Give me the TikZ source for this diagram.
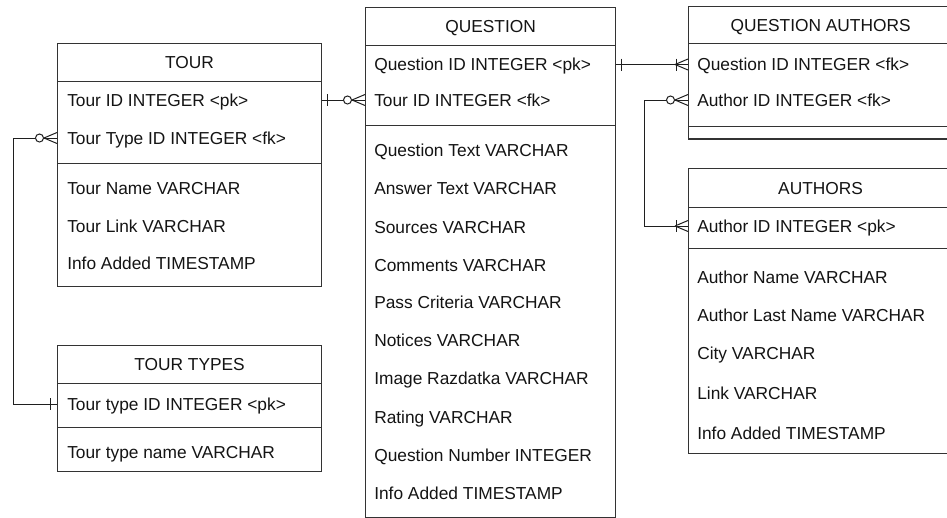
\documentclass[tikz,border=0pt]{standalone}
\usepackage{fontspec}
\setmainfont{Liberation Sans}
\usetikzlibrary{calc}
\newcommand\erCrow[1]{\draw[conn] ($(#1)+(-13,0)$) -- ($(#1)+(0,-5.5)$) ($(#1)+(-13,0)$) -- ($(#1)+(0,5.5)$);}
\newcommand\erCircle[1]{\draw[conn,fill=white] ($(#1)+(-17.5,0)$) circle[radius=3pt];}
\newcommand\erBar[2]{\draw[conn] ($(#1)+(#2,-6)$) -- ($(#1)+(#2,6)$);}
\begin{document}
\begin{tikzpicture}[x=0.75pt,y=-0.75pt,
  sec/.style 2 args={draw=black!80, line width=0.9pt, fill=white, inner sep=0pt,
    anchor=north west, minimum width=#1*0.75pt, minimum height=#2*0.75pt,
    font=\fontsize{13}{15}\selectfont, text=black!92, text height=9.3pt, text depth=0pt},
  row/.style={font=\fontsize{13}{15}\selectfont, text=black!92, inner sep=0pt,
    anchor=west, text height=9.3pt, text depth=0pt},
  conn/.style={draw=black!88, line width=0.75pt},
]
\useasboundingbox (0,0) rectangle (947,518);
\fill[white] (0,0) rectangle (947,518);
\clip (0,0) rectangle (947,518);

% TOUR
\node[sec={264}{38}] (tourH) at (57,43) {TOUR};
\node[sec={264}{82}] (tourK) at (57,81) {};
\node[sec={264}{123}] (tourA) at (57,163) {};
\node[row] (t1) at (67,100) {Tour ID INTEGER <pk>};
\node[row] (t2) at (67,138) {Tour Type ID INTEGER <fk>};
\node[row] (t3) at (67,188) {Tour Name VARCHAR};
\node[row] (t4) at (67,226) {Tour Link VARCHAR};
\node[row] (t5) at (67,263) {Info Added TIMESTAMP};

% TOUR TYPES
\node[sec={264}{38}] (ttH) at (57,345) {TOUR TYPES};
\node[sec={264}{44}] (ttK) at (57,383) {};
\node[sec={264}{44}] (ttA) at (57,427) {};
\node[row] (tt1) at (67,404) {Tour type ID INTEGER <pk>};
\node[row] (tt2) at (67,452) {Tour type name VARCHAR};

% QUESTION
\node[sec={250}{38}] (qH) at (365,7) {QUESTION};
\node[sec={250}{80}] (qK) at (365,45) {};
\node[sec={250}{392}] (qA) at (365,125) {};
\node[row] (q1) at (374,64.5) {Question ID INTEGER <pk>};
\node[row] (q2) at (374,100) {Tour ID INTEGER <fk>};
\node[row] (q3) at (374,150) {Question Text VARCHAR};
\node[row] (q4) at (374,188) {Answer Text VARCHAR};
\node[row] (q5) at (374,227) {Sources VARCHAR};
\node[row] (q6) at (374,265) {Comments VARCHAR};
\node[row] (q7) at (374,302) {Pass Criteria VARCHAR};
\node[row] (q8) at (374,340) {Notices VARCHAR};
\node[row] (q9) at (374,378) {Image Razdatka VARCHAR};
\node[row] (q10) at (374,417) {Rating VARCHAR};
\node[row] (q11) at (374,455) {Question Number INTEGER};
\node[row] (q12) at (374,493) {Info Added TIMESTAMP};

% QUESTION AUTHORS
\node[sec={264}{37}] (qaH) at (688,6) {QUESTION AUTHORS};
\node[sec={264}{83}] (qaK) at (688,43) {};
\node[sec={264}{6}] (qaA) at (688,126) {};
\node[row] (qa1) at (697,64.5) {Question ID INTEGER <fk>};
\node[row] (qa2) at (697,100) {Author ID INTEGER <fk>};

% AUTHORS
\node[sec={264}{39}] (auH) at (688,168) {AUTHORS};
\node[sec={264}{41}] (auK) at (688,207) {};
\node[sec={264}{205}] (auA) at (688,248) {};
\node[row] (au1) at (697,226) {Author ID INTEGER <pk>};
\node[row] (au2) at (697,277) {Author Name VARCHAR};
\node[row] (au3) at (697,315) {Author Last Name VARCHAR};
\node[row] (au4) at (697,353) {City VARCHAR};
\node[row] (au5) at (697,393) {Link VARCHAR};
\node[row] (au6) at (697,433) {Info Added TIMESTAMP};

% connector end points
\coordinate (e1a) at (tourK.east |- t1);
\coordinate (e1b) at (qK.west |- q2);
\coordinate (e2a) at (qK.east |- q1);
\coordinate (e2b) at (qaK.west |- qa1);
\coordinate (e3a) at (qaK.west |- qa2);
\coordinate (e3b) at (auK.west |- au1);
\coordinate (j3) at (644,0);
\coordinate (e4a) at (tourK.west |- t2);
\coordinate (e4b) at (ttK.west |- tt1);
\coordinate (j4) at (13,0);

% TOUR -- QUESTION
\draw[conn] (e1a) -- (e1b);
\erBar{e1a}{5}
\erCrow{e1b}
\erCircle{e1b}

% QUESTION -- QUESTION AUTHORS
\draw[conn] (e2a) -- (e2b);
\erBar{e2a}{5}
\erBar{e2b}{-12}
\erCrow{e2b}

% QUESTION AUTHORS -- AUTHORS
\draw[conn] (e3a) -- (j3 |- e3a) -- (j3 |- e3b) -- (e3b);
\erCrow{e3a}
\erCircle{e3a}
\erBar{e3b}{-12}
\erCrow{e3b}

% TOUR -- TOUR TYPES
\draw[conn] (e4a) -- (j4 |- e4a) -- (j4 |- e4b) -- (e4b);
\erCrow{e4a}
\erCircle{e4a}
\erBar{e4b}{-7}
\end{tikzpicture}
\end{document}
